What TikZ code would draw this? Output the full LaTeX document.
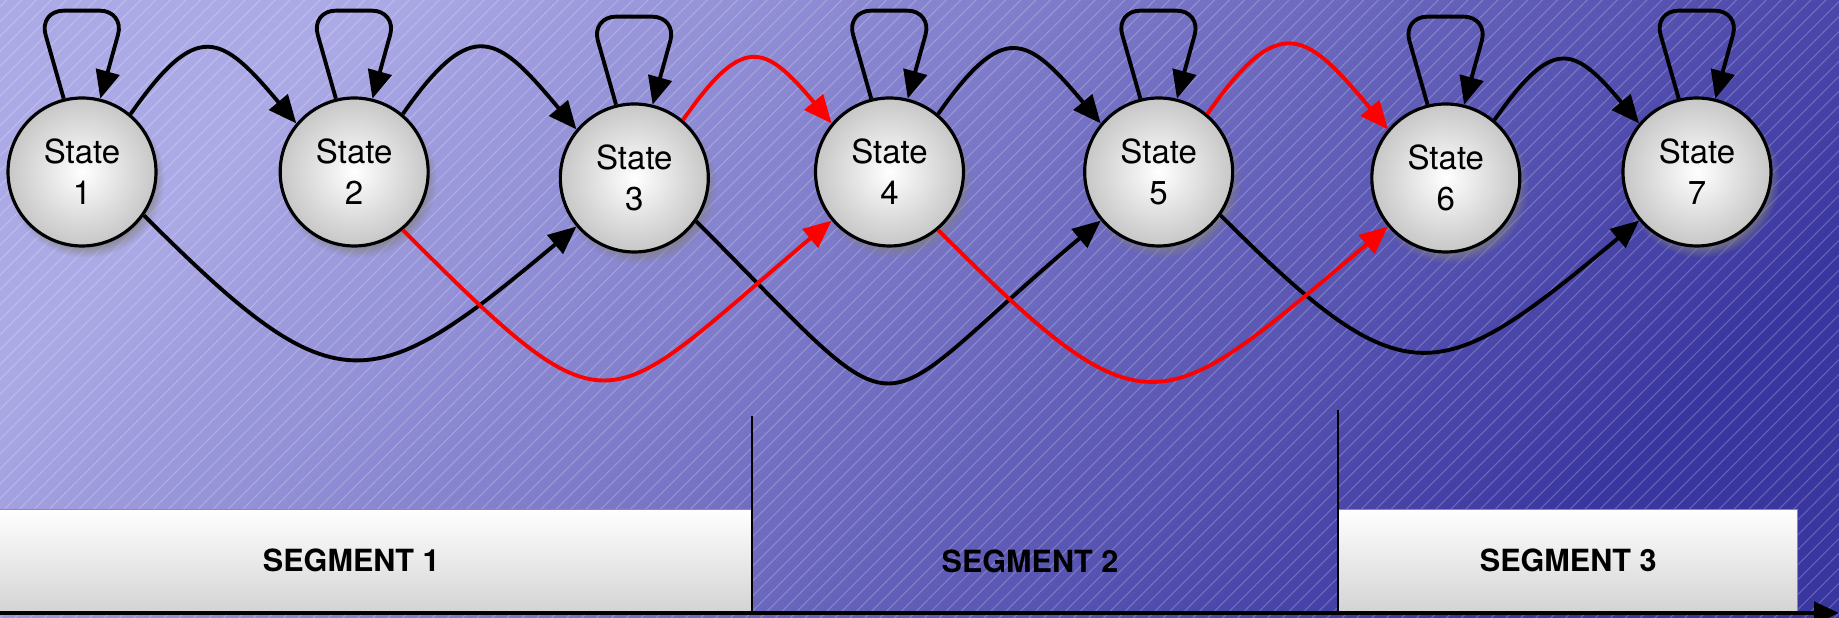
\documentclass[tikz,border=0pt]{standalone}
\usepackage{fontspec}
\setmainfont{TeX Gyre Heros}
\usetikzlibrary{positioning,arrows.meta,shadows,patterns.meta}

\definecolor{bgtop}{RGB}{172,170,230}
\definecolor{bgbot}{RGB}{58,54,160}

\begin{document}
\begin{tikzpicture}[node distance=1.2cm,
	state/.style={circle, draw=black, line width=0.9pt, minimum size=1.48cm, inner sep=0pt,
		shading=radial, inner color=white, outer color=black!22,
		circular drop shadow={shadow xshift=0.04cm, shadow yshift=-0.07cm, shadow scale=1.06, opacity=0.7},
		align=center, font=\fontsize{9.4}{11.7}\selectfont},
	tr/.style={line width=1.1pt, -{Triangle[length=0.28cm,width=0.24cm]}},
	redtr/.style={tr, red},
	segbox/.style={draw=black!45, line width=0.4pt, top color=white, bottom color=black!17,
		minimum height=1.03cm, inner sep=0pt, font=\fontsize{8.7}{10}\selectfont\bfseries},
	seglabel/.style={font=\fontsize{8.7}{10}\selectfont\bfseries}]
	\useasboundingbox (0,0) rectangle (18.39,6.18);
	% background
	\shade[top color=bgtop, bottom color=bgbot, shading angle=45] (0,0) rectangle (18.39,6.18);
	\fill[pattern={Lines[angle=45,distance=3pt,line width=0.3pt]}, pattern color=white, opacity=0.22] (0,0) rectangle (18.39,6.18);
	
	% segments
	\node (seg1) [segbox, minimum width=8cm, anchor=south east] at (7.52,0.05) {SEGMENT 1};
	\node (seg3) [segbox, minimum width=4.59cm, anchor=south west] at (13.38,0.05) {SEGMENT 3};
	\node (seg2) [seglabel] at (10.30,0.57) {SEGMENT 2};
	\coordinate (d1) at (7.52,2.02);
	\coordinate (d2) at (13.38,2.08);
	\draw[line width=0.6pt] (d1) -- (seg1.south east);
	\draw[line width=0.6pt] (d2) -- (seg3.south west);
	\coordinate (ax0) at (0,0.05);
	\coordinate (ax1) at (18.39,0.05);
	\draw[line width=1.3pt, -{Triangle[length=0.25cm,width=0.22cm]}] (ax0) -- (ax1);
	
	% states
	\node (s1) [state] at (0.82,4.46) {State\\1};
	\node (s2) [state, right=1.21cm of s1] {State\\2};
	\node (s3) [state, right=1.29cm of s2, yshift=-0.06cm] {State\\3};
	\node (s4) [state, right=1.04cm of s3, yshift=0.06cm] {State\\4};
	\node (s5) [state, right=1.18cm of s4] {State\\5};
	\node (s6) [state, right=1.36cm of s5, yshift=-0.06cm] {State\\6};
	\node (s7) [state, right=1.00cm of s6, yshift=0.06cm] {State\\7};
	
	% self loops
	\foreach \s in {1,...,7}
		\draw[tr, rounded corners=0.25cm] (s\s.104) -- ++(-0.25,0.88) -- ++(0.86,0) -- (s\s.76);
	
	% to the next state
	\draw[tr] (s1.50) to[out=55,in=130,looseness=1.8] (s2.140);
	\draw[tr] (s2.50) to[out=55,in=130,looseness=1.8] (s3.140);
	\draw[redtr] (s3.50) to[out=55,in=130,looseness=1.8] (s4.140);
	\draw[tr] (s4.50) to[out=55,in=130,looseness=1.8] (s5.140);
	\draw[redtr] (s5.50) to[out=55,in=130,looseness=1.8] (s6.140);
	\draw[tr] (s6.50) to[out=55,in=130,looseness=1.8] (s7.140);
	
	% skipping one state
	\draw[tr] (s1.-35) to[out=-45,in=-140,looseness=1.6] (s3.220);
	\draw[tr] (s3.-35) to[out=-45,in=-140,looseness=2.0] (s5.220);
	\draw[tr] (s5.-35) to[out=-45,in=-140,looseness=1.6] (s7.220);
	\draw[redtr] (s2.-50) to[out=-45,in=-140,looseness=1.8] (s4.220);
	\draw[redtr] (s4.-50) to[out=-45,in=-140,looseness=1.7] (s6.220);
\end{tikzpicture}
\end{document}
